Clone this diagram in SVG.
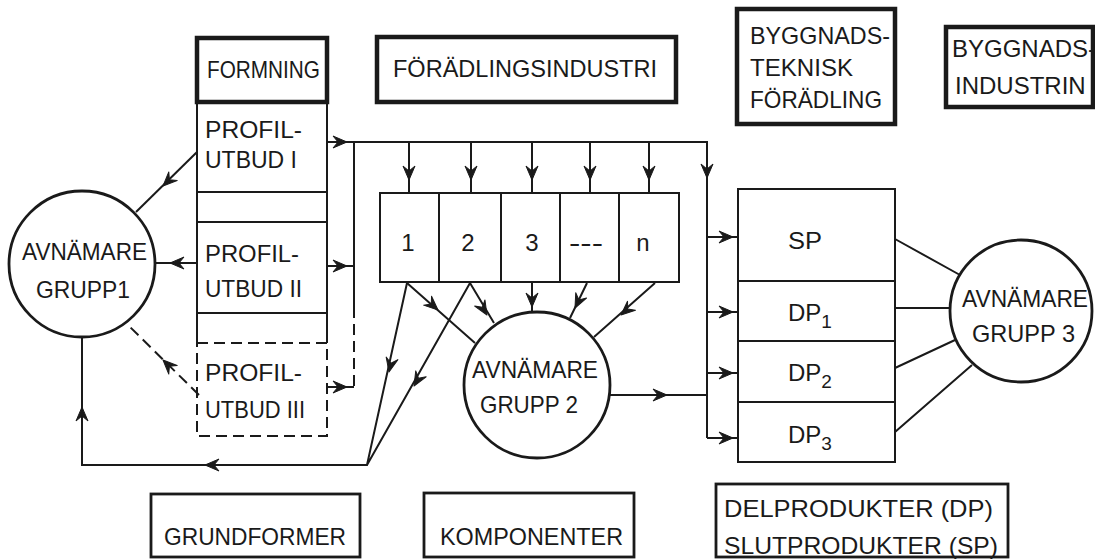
<svg xmlns="http://www.w3.org/2000/svg" xmlns:xlink="http://www.w3.org/1999/xlink" width="1095" height="559" viewBox="0 0 1095 559">
<style>
.ln{stroke:#1a1a1a;stroke-width:2;fill:none}
.box{stroke:#1a1a1a;stroke-width:2;fill:none}
.thick{stroke-width:4.5}
.mid{stroke-width:2.8}
.dash{stroke-dasharray:11 6}
text{font-family:"Liberation Sans",Arial,sans-serif;font-size:24px;fill:#1a1a1a}
.c{text-anchor:middle}
</style>
<defs>
<path id="ah" d="M0,0 L-14,-6 L-9,0 L-14,6 Z" fill="#1a1a1a" stroke="#1a1a1a" stroke-width="1" stroke-linejoin="round"/>
</defs>
<rect width="1095" height="559" fill="#ffffff"/>

<g id="connectors">
<path class="ln" d="M327,142 H707 V438"/>
<path class="ln" d="M354,142 V307"/>
<path class="ln dash" d="M354,307 V387"/>
<path class="ln" d="M327,266 H354"/>
<path class="ln" d="M327,387 H354"/>
<path class="ln" d="M409,142 V193 M471,142 V193 M532,142 V193 M590,142 V193 M649,142 V193"/>
<path class="ln" d="M707,237 H738 M707,312 H738 M707,373 H738 M707,438 H738"/>
<path class="ln" d="M610,395 H707"/>
<path class="ln" d="M197,152 L136,212"/>
<path class="ln" d="M197,263 H155"/>
<path class="ln dash" d="M199,395 L127,324"/>
<path class="ln" d="M82,337 V465 H367 L407,283 M367,465 L470,283"/>
<path class="ln" d="M407,283 L475,343 M470,283 L494,323 M532,283 V312 M587,283 L570,318 M655,283 L594,337"/>
<path class="ln" d="M895,239 L960,275 M895,308 H951 M895,368 L955,340 M895,432 L972,365"/>
<use xlink:href="#ah" transform="translate(347,142)"/>
<use xlink:href="#ah" transform="translate(347,266)"/>
<use xlink:href="#ah" transform="translate(347,387)"/>
<use xlink:href="#ah" transform="translate(409,180) rotate(90)"/>
<use xlink:href="#ah" transform="translate(471,180) rotate(90)"/>
<use xlink:href="#ah" transform="translate(532,180) rotate(90)"/>
<use xlink:href="#ah" transform="translate(590,180) rotate(90)"/>
<use xlink:href="#ah" transform="translate(649,180) rotate(90)"/>
<use xlink:href="#ah" transform="translate(707,178) rotate(90)"/>
<use xlink:href="#ah" transform="translate(733,237)"/>
<use xlink:href="#ah" transform="translate(733,312)"/>
<use xlink:href="#ah" transform="translate(733,373)"/>
<use xlink:href="#ah" transform="translate(733,438)"/>
<use xlink:href="#ah" transform="translate(667,395)"/>
<use xlink:href="#ah" transform="translate(163,186) rotate(135.5)"/>
<use xlink:href="#ah" transform="translate(170,263) rotate(180)"/>
<use xlink:href="#ah" transform="translate(163,360) rotate(224.6)"/>
<use xlink:href="#ah" transform="translate(82,407) rotate(-90)"/>
<use xlink:href="#ah" transform="translate(205,465) rotate(180)"/>
<use xlink:href="#ah" transform="translate(389,372) rotate(102.5)"/>
<use xlink:href="#ah" transform="translate(414,386) rotate(119.8)"/>
<use xlink:href="#ah" transform="translate(438,310) rotate(41.8)"/>
<use xlink:href="#ah" transform="translate(487,315) rotate(59)"/>
<use xlink:href="#ah" transform="translate(532,307) rotate(90)"/>
<use xlink:href="#ah" transform="translate(575,308) rotate(116)"/>
<use xlink:href="#ah" transform="translate(621,315) rotate(138.5)"/>
</g>

<g id="formning">
<rect class="box thick" x="197" y="38" width="130" height="64"/>
<text x="207" y="78" textLength="113" lengthAdjust="spacingAndGlyphs">FORMNING</text>
</g>
<g id="foradlingsindustri">
<rect class="box thick" x="377" y="37" width="299" height="65"/>
<text x="393" y="77" textLength="264" lengthAdjust="spacingAndGlyphs">FÖRÄDLINGSINDUSTRI</text>
</g>
<g id="byggnadsteknisk">
<rect class="box thick" x="737" y="9" width="158" height="115"/>
<text x="750" y="44" textLength="140" lengthAdjust="spacingAndGlyphs">BYGGNADS-</text>
<text x="750" y="76" textLength="103" lengthAdjust="spacingAndGlyphs">TEKNISK</text>
<text x="750" y="108" textLength="132" lengthAdjust="spacingAndGlyphs">FÖRÄDLING</text>
</g>
<g id="byggnadsindustrin">
<rect class="box thick" x="946" y="27" width="147" height="80"/>
<text x="952" y="57" font-size="20">BYGGNADS-</text>
<text x="955" y="94" font-size="20">INDUSTRIN</text>
</g>

<g id="profil1">
<rect class="box" x="197" y="102" width="130" height="90"/>
<text x="205" y="138" textLength="97" lengthAdjust="spacingAndGlyphs">PROFIL-</text>
<text x="205" y="168" textLength="92" lengthAdjust="spacingAndGlyphs">UTBUD I</text>
</g>
<g id="gap1"><path class="box" d="M197,192 V222 M327,192 V222"/></g>
<g id="profil2">
<rect class="box" x="197" y="222" width="130" height="91"/>
<text x="205" y="262" textLength="94" lengthAdjust="spacingAndGlyphs">PROFIL-</text>
<text x="205" y="297" textLength="97" lengthAdjust="spacingAndGlyphs">UTBUD II</text>
</g>
<g id="gap2"><path class="box" d="M197,313 V343 M327,313 V343"/></g>
<g id="profil3">
<rect class="box dash" x="197" y="343" width="130" height="93"/>
<text x="205" y="381" textLength="97" lengthAdjust="spacingAndGlyphs">PROFIL-</text>
<text x="205" y="418" textLength="100" lengthAdjust="spacingAndGlyphs">UTBUD III</text>
</g>

<g id="avnamare1">
<circle class="box mid" cx="82" cy="264" r="73"/>
<text x="22" y="260" textLength="125" lengthAdjust="spacingAndGlyphs">AVNÄMARE</text>
<text x="36" y="298" textLength="94" lengthAdjust="spacingAndGlyphs">GRUPP1</text>
</g>

<g id="komp1"><rect class="box" x="380" y="193" width="59" height="89"/><text class="c" x="408" y="251">1</text></g>
<g id="komp2"><rect class="box" x="439" y="193" width="62" height="89"/><text class="c" x="468" y="251">2</text></g>
<g id="komp3"><rect class="box" x="501" y="193" width="59" height="89"/><text class="c" x="532" y="251">3</text></g>
<g id="kompdots"><rect class="box" x="560" y="193" width="59" height="89"/><text class="c" x="586" y="251" textLength="34" lengthAdjust="spacingAndGlyphs">---</text></g>
<g id="kompn"><rect class="box" x="619" y="193" width="60" height="89"/><text class="c" x="643" y="251">n</text></g>

<g id="avnamare2">
<circle class="box mid" cx="537" cy="385" r="73"/>
<text x="472" y="378" textLength="126" lengthAdjust="spacingAndGlyphs">AVNÄMARE</text>
<text x="480" y="413" textLength="98" lengthAdjust="spacingAndGlyphs">GRUPP 2</text>
</g>

<g id="sp"><rect class="box" x="738" y="189" width="157" height="92"/><text x="788" y="249" textLength="34" lengthAdjust="spacingAndGlyphs">SP</text></g>
<g id="dp1"><rect class="box" x="738" y="281" width="157" height="60"/><text x="788" y="321">DP<tspan font-size="19" dy="7">1</tspan></text></g>
<g id="dp2"><rect class="box" x="738" y="341" width="157" height="61"/><text x="788" y="381">DP<tspan font-size="19" dy="7">2</tspan></text></g>
<g id="dp3"><rect class="box" x="738" y="402" width="157" height="60"/><text x="788" y="443">DP<tspan font-size="19" dy="7">3</tspan></text></g>

<g id="avnamare3">
<circle class="box mid" cx="1021" cy="311" r="71"/>
<text x="962" y="307" textLength="126" lengthAdjust="spacingAndGlyphs">AVNÄMARE</text>
<text x="972" y="342" textLength="103" lengthAdjust="spacingAndGlyphs">GRUPP 3</text>
</g>

<g id="grundformer">
<rect class="box mid" x="151" y="494" width="209" height="63"/>
<text x="164" y="545" textLength="182" lengthAdjust="spacingAndGlyphs">GRUNDFORMER</text>
</g>
<g id="komponenter">
<rect class="box mid" x="424" y="493" width="210" height="64"/>
<text x="440" y="545" textLength="183" lengthAdjust="spacingAndGlyphs">KOMPONENTER</text>
</g>
<g id="delprodukter">
<rect class="box mid" x="716" y="484" width="292" height="73"/>
<text x="724" y="517" textLength="269" lengthAdjust="spacingAndGlyphs">DELPRODUKTER (DP)</text>
<text x="724" y="554" textLength="274" lengthAdjust="spacingAndGlyphs">SLUTPRODUKTER (SP)</text>
</g>
</svg>
